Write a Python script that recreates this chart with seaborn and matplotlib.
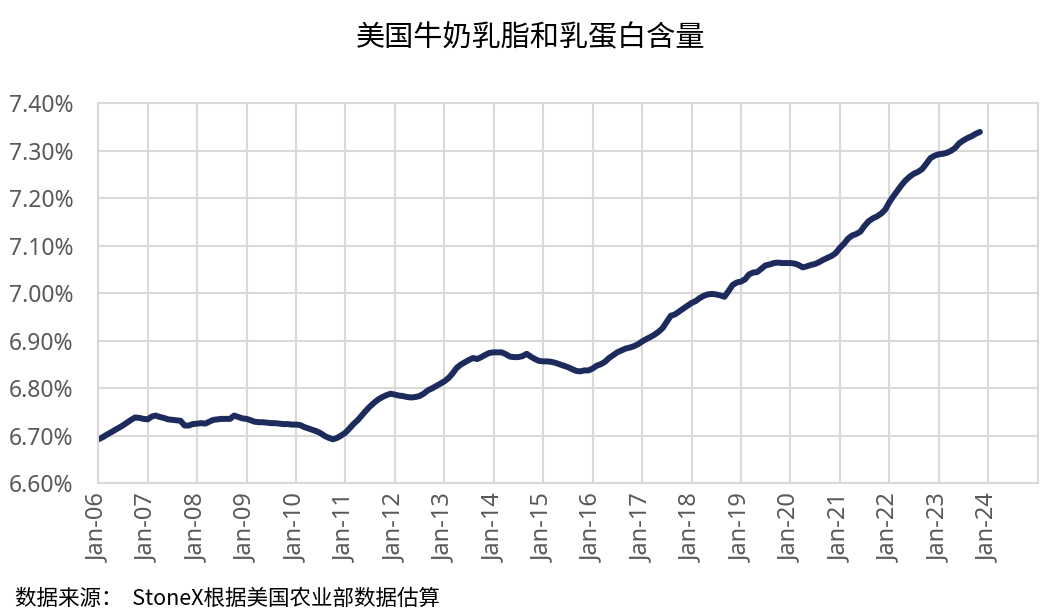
import pandas as pd
import matplotlib
matplotlib.use("Agg")
import matplotlib.pyplot as plt
import matplotlib.dates as mdates
from matplotlib.ticker import FuncFormatter
import seaborn as sns

# Monthly fat + protein content (%)
v2006 = [6.693, 6.697, 6.702, 6.707, 6.712, 6.717, 6.722, 6.728, 6.734, 6.739, 6.738, 6.736]
v2007 = [6.735, 6.741, 6.743, 6.740, 6.738, 6.735, 6.734, 6.733, 6.732, 6.722, 6.722, 6.725]
v2008 = [6.726, 6.727, 6.726, 6.730, 6.734, 6.735, 6.736, 6.736, 6.736, 6.743, 6.740, 6.737]
v2009 = [6.736, 6.733, 6.730, 6.729, 6.729, 6.728, 6.727, 6.727, 6.726, 6.725, 6.725, 6.724]
v2010 = [6.724, 6.723, 6.719, 6.716, 6.713, 6.710, 6.706, 6.700, 6.696, 6.693, 6.696, 6.701]
v2011 = [6.707, 6.716, 6.725, 6.733, 6.743, 6.753, 6.762, 6.770, 6.777, 6.782, 6.786, 6.789]
v2012 = [6.787, 6.785, 6.784, 6.782, 6.781, 6.782, 6.784, 6.789, 6.796, 6.800, 6.805, 6.810]
v2013 = [6.815, 6.822, 6.831, 6.843, 6.850, 6.855, 6.860, 6.864, 6.862, 6.866, 6.871, 6.875]
v2014 = [6.876, 6.876, 6.876, 6.872, 6.867, 6.866, 6.866, 6.868, 6.873, 6.867, 6.862, 6.858]
v2015 = [6.857, 6.857, 6.856, 6.854, 6.851, 6.848, 6.845, 6.841, 6.837, 6.836, 6.838, 6.838]
v2016 = [6.842, 6.848, 6.851, 6.856, 6.864, 6.870, 6.876, 6.880, 6.884, 6.886, 6.889, 6.893]
v2017 = [6.899, 6.904, 6.908, 6.913, 6.919, 6.927, 6.940, 6.953, 6.956, 6.962, 6.968, 6.974]
v2018 = [6.980, 6.984, 6.990, 6.995, 6.998, 6.999, 6.998, 6.996, 6.993, 7.005, 7.018, 7.023]
v2019 = [7.025, 7.030, 7.040, 7.044, 7.045, 7.052, 7.059, 7.061, 7.064, 7.065, 7.064, 7.064]
v2020 = [7.064, 7.063, 7.060, 7.055, 7.057, 7.060, 7.062, 7.066, 7.071, 7.075, 7.079, 7.085]
v2021 = [7.096, 7.105, 7.115, 7.122, 7.125, 7.130, 7.142, 7.152, 7.158, 7.162, 7.168, 7.176]
v2022 = [7.192, 7.205, 7.216, 7.228, 7.238, 7.246, 7.252, 7.256, 7.262, 7.273, 7.285, 7.290]
v2023 = [7.293, 7.294, 7.296, 7.300, 7.306, 7.316, 7.322, 7.327, 7.331, 7.336, 7.340]

values = (v2006 + v2007 + v2008 + v2009 + v2010 + v2011 + v2012 + v2013 + v2014
          + v2015 + v2016 + v2017 + v2018 + v2019 + v2020 + v2021 + v2022 + v2023)
dates = pd.date_range("2006-01-01", periods=len(values), freq="MS")
df = pd.DataFrame({"date": dates, "value": values})

tick_years = list(range(2006, 2025))
y_ticks = [6.60, 6.70, 6.80, 6.90, 7.00, 7.10, 7.20, 7.30, 7.40]

title = "美国牛奶乳脂和乳蛋白含量"
source = "数据来源：  StoneX根据美国农业部数据估算"

sns.set_theme(style="whitegrid")
plt.rcParams["font.family"] = ["Noto Sans", "Noto Sans CJK SC", "DejaVu Sans"]

fig = plt.figure(figsize=(10.45, 6.12), dpi=100)
ax = fig.add_axes([0.094, 0.21, 0.899, 0.621])

sns.lineplot(data=df, x="date", y="value", ax=ax, color="#1c2a5c", linewidth=4.3,
             solid_capstyle="round")

ax.set_xlim(pd.Timestamp("2006-01-01"), pd.Timestamp("2025-01-01"))
ax.set_ylim(6.60, 7.40)
ax.set_xticks([pd.Timestamp(f"{y}-01-01") for y in tick_years])
ax.xaxis.set_major_formatter(mdates.DateFormatter("%b-%y"))
ax.set_yticks(y_ticks)
ax.yaxis.set_major_formatter(FuncFormatter(lambda v, p: f"{v:.2f}%"))

ax.grid(True, color="#d9d9d9", linewidth=1.5)
for s in ax.spines.values():
    s.set_color("#d9d9d9")
    s.set_linewidth(1.5)
ax.tick_params(axis="x", rotation=90, labelsize=17, colors="#595959", length=0, pad=7)
ax.tick_params(axis="y", labelsize=16.5, colors="#595959", length=0, pad=18)
ax.set_xlabel("")
ax.set_ylabel("")

fig.text(0.508, 0.937, title, ha="center", va="center", fontsize=21,
         family=["Noto Sans CJK SC"], color="#000000")
fig.text(0.014, 0.022, source, ha="left", va="center", fontsize=15.5,
         family=["Noto Sans CJK SC", "DejaVu Sans"], color="#000000")

fig.savefig("out.png", dpi=100)
